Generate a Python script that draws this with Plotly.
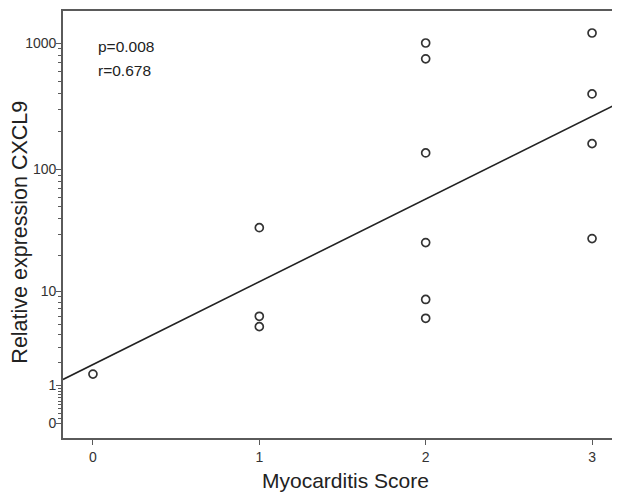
import numpy as np
import plotly.graph_objects as go

# ---- data ----
score = [0, 1, 1, 1, 2, 2, 2, 2, 2, 2, 3, 3, 3, 3]
cxcl9 = [1.45, 34, 6.0, 4.8, 1000, 750, 135, 25.7, 8.5, 5.75, 1200, 396, 160, 27.7]
x_ticks = [0, 1, 2, 3]
y_ticks = [0, 1, 10, 100, 1000]
y_tick_labels = ["0", "1", "10", "100", "1000"]
stats_lines = ["p=0.008", "r=0.678"]
x_title = "Myocarditis Score"
y_title = "Relative expression CXCL9"


def safelog(v):
    """SPSS-style 'safe log' axis transform: log10(v + 1)."""
    return np.log10(np.asarray(v, dtype=float) + 1.0)


t_vals = safelog(cxcl9)
slope, intercept = np.polyfit(score, t_vals, 1)
x_range = [-0.18, 3.15]
line_x = np.array(x_range)
line_y = slope * line_x + intercept

minor_vals = [0.1 * k for k in range(1, 10)]
for dec in [1, 10, 100, 1000]:
    for m in range(2, 10):
        minor_vals.append(dec * m)

FONT = "Liberation Sans, Arial, sans-serif"
AXCOL = "#5a5a5a"

# page body has an 8px default margin: the figure is sized/offset so the
# plot area lands at page pixels x 63..619, y 10..438
PLOT_L, PLOT_T, PLOT_W, PLOT_H = 55, 2, 556, 428


def px(xpage):
    return (xpage - 63) / PLOT_W


def py(ypage):
    return (438 - ypage) / PLOT_H


fig = go.Figure()
fig.add_trace(go.Scatter(
    x=line_x, y=line_y, mode="lines",
    line=dict(color="#222222", width=1.6),
    hoverinfo="skip", showlegend=False,
))
fig.add_trace(go.Scatter(
    x=score, y=t_vals, mode="markers",
    marker=dict(symbol="circle-open", size=8, color="#333333",
                line=dict(width=1.7, color="#333333")),
    customdata=cxcl9,
    hovertemplate="Score %{x}<br>CXCL9 %{customdata}<extra></extra>",
    showlegend=False,
))

fig.update_layout(
    width=612, height=487, autosize=False,
    margin=dict(l=PLOT_L, r=612 - PLOT_L - PLOT_W, t=PLOT_T, b=487 - PLOT_T - PLOT_H),
    paper_bgcolor="white", plot_bgcolor="white",
    font=dict(family=FONT, size=14, color="#333333"),
    showlegend=False,
    xaxis=dict(
        range=x_range, tickmode="array", tickvals=x_ticks,
        ticktext=[str(v) for v in x_ticks],
        ticks="outside", ticklen=5, tickwidth=1.3, tickcolor=AXCOL,
        showline=True, linecolor=AXCOL, linewidth=1.6, mirror=True,
        showgrid=False, zeroline=False,
        tickfont=dict(size=14, color="#333333"),
    ),
    yaxis=dict(
        range=[-0.115, 3.253],
        tickmode="array", tickvals=list(safelog(y_ticks)),
        ticktext=y_tick_labels,
        ticks="outside", ticklen=5, tickwidth=1.3, tickcolor=AXCOL,
        ticklabelstandoff=-3,
        showline=True, linecolor=AXCOL, linewidth=1.6, mirror=True,
        showgrid=False, zeroline=False,
        tickfont=dict(size=14, color="#333333"),
        minor=dict(tickmode="array", tickvals=list(safelog(minor_vals)),
                   ticks="outside", ticklen=3, tickwidth=1, tickcolor=AXCOL,
                   showgrid=False),
    ),
    annotations=[
        dict(text=y_title, xref="paper", yref="paper",
             x=px(20), y=py(232),
             xanchor="center", yanchor="middle", textangle=-90,
             showarrow=False, font=dict(size=21.5, color="#222222", family=FONT)),
        dict(text=x_title, xref="paper", yref="paper",
             x=px(347), y=py(481),
             xanchor="center", yanchor="middle",
             showarrow=False, font=dict(size=21, color="#222222", family=FONT)),
        dict(text=stats_lines[0], xref="paper", yref="paper",
             x=px(96), y=py(46),
             xanchor="left", yanchor="middle", showarrow=False,
             font=dict(size=15.5, color="#222222", family=FONT)),
        dict(text=stats_lines[1], xref="paper", yref="paper",
             x=px(96), y=py(70),
             xanchor="left", yanchor="middle", showarrow=False,
             font=dict(size=15.5, color="#222222", family=FONT)),
    ],
)

fig.write_html("out.html")
